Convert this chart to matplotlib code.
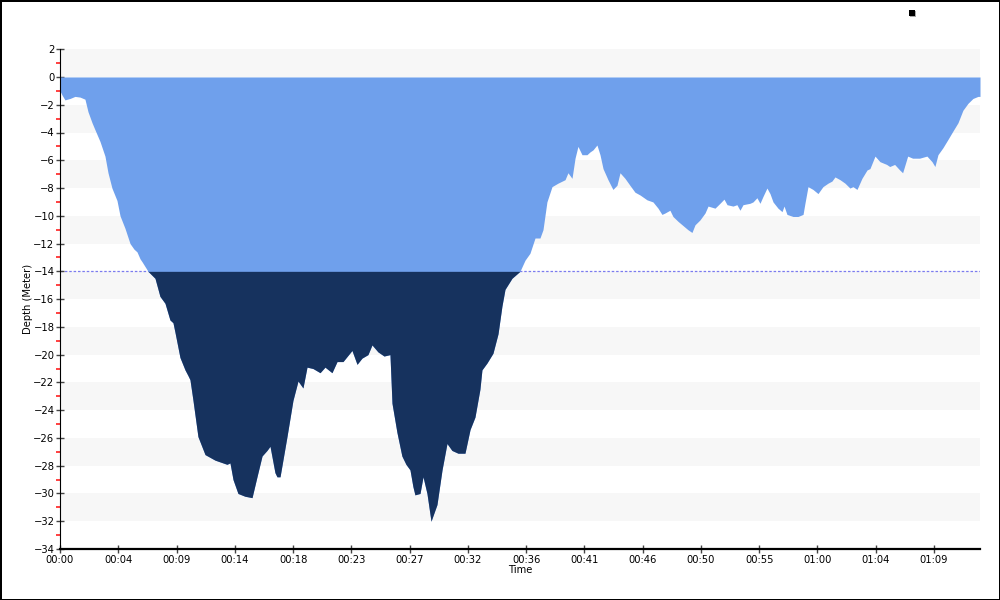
import numpy as np
import matplotlib
matplotlib.use("Agg")
from matplotlib import pyplot as plt
from matplotlib.patches import Rectangle

# dive profile: time in minutes, depth in meters
time_min = [0.0, 0.16, 0.39, 0.79, 1.18, 1.58, 1.97, 2.21, 2.53, 2.76, 3.16, 3.55, 3.79, 4.10,
            4.50, 4.74, 5.13, 5.53, 5.84, 6.08, 6.32, 6.47, 6.95, 7.50, 7.89, 8.29, 8.68, 8.92,
            9.08, 9.47, 9.87, 10.10, 10.26, 10.50, 10.89, 11.45, 12.24, 13.18, 13.42, 13.66,
            14.05, 14.60, 15.16, 15.55, 15.95, 16.34, 16.58, 16.97, 17.13, 17.37, 17.92, 18.39,
            18.79, 19.18, 19.50, 19.97, 20.53, 20.92, 21.47, 21.87, 22.34, 23.05, 23.45, 23.84,
            24.31, 24.63, 25.10, 25.58, 26.05, 26.21, 26.60, 26.99, 27.31, 27.63, 27.86, 28.02,
            28.42, 28.66, 28.97, 29.29, 29.76, 30.16, 30.55, 30.94, 31.42, 31.97, 32.37, 32.76,
            33.15, 33.31, 33.71, 34.18, 34.58, 34.89, 35.13, 35.68, 36.31, 36.71, 37.10, 37.50,
            37.89, 38.13, 38.44, 38.84, 39.31, 39.87, 40.10, 40.42, 40.66, 40.89, 41.21, 41.60,
            41.84, 42.08, 42.39, 42.63, 42.87, 43.26, 43.65, 43.97, 44.21, 44.60, 44.99, 45.39,
            45.79, 46.34, 46.81, 47.21, 47.52, 47.76, 48.15, 48.39, 48.79, 49.18, 49.57, 49.89,
            50.13, 50.52, 50.92, 51.16, 51.71, 52.10, 52.42, 52.66, 53.13, 53.44, 53.68, 53.92,
            54.47, 54.71, 55.02, 55.26, 55.50, 55.81, 56.05, 56.29, 56.68, 57.00, 57.16, 57.39,
            57.87, 58.26, 58.66, 58.81, 59.05, 59.44, 59.84, 60.23, 60.63, 60.94, 61.18, 61.58,
            61.97, 62.36, 62.60, 62.92, 63.31, 63.71, 63.94, 64.34, 64.73, 65.26, 65.50, 65.89,
            66.29, 66.52, 66.92, 67.31, 67.86, 68.44, 68.84, 69.07, 69.31, 69.70, 70.10, 70.49,
            70.89, 71.28, 71.68, 72.07, 72.47, 72.63]
depth_m = [-1.0, -1.3, -1.65, -1.55, -1.4, -1.45, -1.6, -2.5, -3.3, -3.8, -4.65, -5.7, -6.9, -8.0,
           -8.9, -10.0, -10.9, -12.0, -12.4, -12.6, -13.1, -13.3, -14.0, -14.5, -15.8, -16.3, -17.5, -17.7,
           -18.4, -20.2, -21.1, -21.5, -21.8, -23.3, -25.9, -27.2, -27.6, -27.9, -27.8, -29.0,
           -30.0, -30.2, -30.3, -28.8, -27.3, -26.9, -26.6, -28.5, -28.8, -28.8, -25.9, -23.3,
           -21.9, -22.4, -20.9, -21.0, -21.3, -20.9, -21.3, -20.5, -20.5, -19.7, -20.7, -20.25,
           -20.0, -19.3, -19.8, -20.1, -20.0, -23.5, -25.6, -27.3, -27.9, -28.3, -29.5, -30.1,
           -30.0, -28.8, -30.0, -32.0, -30.8, -28.3, -26.4, -26.9, -27.1, -27.1, -25.4, -24.5,
           -22.5, -21.1, -20.6, -19.9, -18.5, -16.5, -15.3, -14.5, -14.0, -13.2, -12.7, -11.6,
           -11.6, -11.0, -9.0, -7.9, -7.65, -7.4, -6.9, -7.3, -5.85, -5.0, -5.6, -5.6,
           -5.4, -5.25, -4.9, -5.6, -6.6, -7.4, -8.1, -7.8, -6.9, -7.3, -7.8, -8.3,
           -8.5, -8.85, -9.0, -9.45, -9.9, -9.8, -9.6, -10.05, -10.4, -10.7, -11.0, -11.2,
           -10.65, -10.3, -9.8, -9.3, -9.45, -9.1, -8.8, -9.2, -9.3, -9.2, -9.6, -9.2,
           -9.1, -9.0, -8.7, -9.1, -8.6, -8.0, -8.4, -9.0, -9.45, -9.7, -9.3, -9.9,
           -10.05, -10.05, -9.9, -9.1, -7.9, -8.1, -8.4, -7.9, -7.65, -7.5, -7.2, -7.4,
           -7.65, -8.0, -7.9, -8.1, -7.3, -6.7, -6.6, -5.7, -6.1, -6.3, -6.45, -6.3,
           -6.7, -6.9, -5.7, -5.85, -5.85, -5.7, -6.1, -6.45, -5.6, -5.1, -4.5, -3.9,
           -3.3, -2.4, -1.9, -1.55, -1.4, -1.4]

x_tick_labels = ["00:00", "00:04", "00:09", "00:14", "00:18", "00:23", "00:27", "00:32",
                 "00:36", "00:41", "00:46", "00:50", "00:55", "01:00", "01:04", "01:09"]
tick_step = 4.6       # minutes between labelled ticks
limit_depth = -14     # threshold line

t = np.array(time_min)
d = np.array(depth_m)

fig = plt.figure(figsize=(10, 6), dpi=100)
fig.patch.set_facecolor("white")
fig.patch.set_edgecolor("black")
fig.patch.set_linewidth(2)
ax = fig.add_axes([0.06, 0.085, 0.92, 0.833])

# alternating background bands
for y0 in range(-32, 2, 4):
    ax.axhspan(y0, y0 + 2, color="#f7f7f7", zorder=0, lw=0)

ax.axhline(limit_depth, color="#7b7bef", lw=0.9, ls=(0, (2, 1.5)), zorder=1)
ax.fill_between(t, 0, d, color="#6fa0ec", lw=0, zorder=2)
ax.fill_between(t, limit_depth, d, where=d < limit_depth, interpolate=True,
                color="#16325e", lw=0, zorder=3)

ax.set_xlim(0, t[-1])
ax.set_ylim(-34, 2)
ax.set_xticks([i * tick_step for i in range(len(x_tick_labels))])
ax.set_xticklabels(x_tick_labels)
ax.set_yticks(range(-34, 3, 2))
ax.set_yticks(range(-33, 2, 2), minor=True)

for s in ["top", "right"]:
    ax.spines[s].set_visible(False)
ax.spines["left"].set_color("black")
ax.spines["bottom"].set_color("black")
ax.spines["bottom"].set_linewidth(1.6)
ax.set_facecolor("white")

ax.tick_params(axis="both", which="major", direction="inout", length=6, width=1,
               color="#444444", labelsize=7.2, pad=1)
ax.tick_params(axis="y", which="minor", direction="out", length=3, width=1.2, color="#ff2020")
ax.set_xlabel("Time", fontsize=7.2)
ax.set_ylabel("Depth (Meter)", fontsize=7.2)
ax.xaxis.set_label_coords(0.5, -0.033)
ax.yaxis.set_label_coords(-0.029, 0.5)
ax.xaxis.label.set_va("top")

# empty legend marker in the top right corner
fig.patches.append(Rectangle((0.910, 0.972), 0.006, 0.01, transform=fig.transFigure,
                             facecolor="#aaaaaa", edgecolor="none"))
fig.patches.append(Rectangle((0.909, 0.974), 0.006, 0.01, transform=fig.transFigure,
                             facecolor="black", edgecolor="none"))

plt.savefig("out.png", dpi=100, facecolor=fig.get_facecolor(), edgecolor=fig.get_edgecolor())
